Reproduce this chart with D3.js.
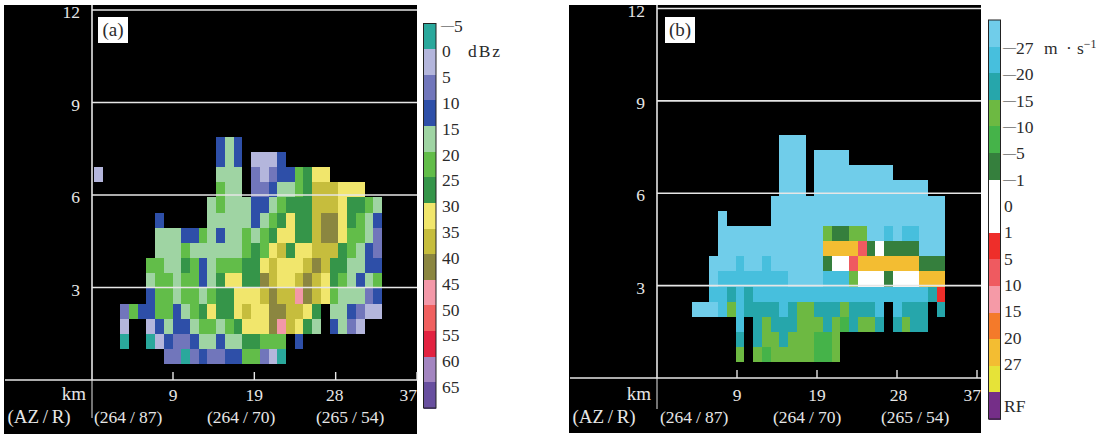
<!DOCTYPE html>
<html><head><meta charset="utf-8">
<script src="https://cdn.jsdelivr.net/npm/d3@7"></script>
<style>html,body{margin:0;padding:0;background:#fff}svg{display:block}text{font-family:"Liberation Serif",serif}</style>
</head><body><svg id="c" width="1109" height="434"></svg>
<script>
// Height ticks (km), range ticks (km), azimuth/range labels
const heightTicks = [12, 9, 6, 3];
const rangeTicks = ["9", "19", "28", "37"];
const azLabels = ["(264/87)", "(264/70)", "(265/54)"];

// Reflectivity legend (dBz), one letter per class
const dbzCodes = ["A","L","P","B","M","G","D","Y","O","K","R","S","T","U","V"];
const dbzLabels = ["−5","0","5","10","15","20","25","30","35","40","45","50","55","60","65"];
const dbzColors = ["#2aa89c","#b4b6dc","#7176bb","#2f50a8","#9fd4a3","#62bd4a","#34954a","#f1e66c","#c6bd3c","#8b8640","#f398a8","#f0605f","#e2213f","#a385c0","#67509f"];

// Velocity legend (m/s), one letter per class
const velCodes = ["C","E","T","H","N","F","W","w","Z","Q","I","J","X","K","P"];
const velLabels = ["−27","−20","−15","−10","−5","−1","0","1","5","10","15","20","27","RF"];
const velColors = ["#70cdea","#46bfdd","#25a6ab","#6db942","#45b349","#347f3e","#ffffff","#ffffff","#ee2f2c","#ef5a60","#f59aa7","#f47a2a","#f3bd30","#e6e338","#742d88"];

// Panel (a) reflectivity classes, rows top to bottom, columns left to right
const reflectivityRows = [
"..............BMB",
"..............BMB.LLLB",
"L.............MMM.PLPBBGDYY",
"..............GMM.PPBMMGDOOOYYY",
".............MGMMMBBMGDDDOOOYDDGM",
".......B.....MMMMMBMGDYDDOKKYDGMB",
".......MMMBBGMBMMGMGDYYDDOKKYGGMP",
".......MMMGMMMMMMGDGYODYYOOODGMBP",
"......GGMMDGBMGGGDDYOYYYOKODDMMBB",
"......MGGMGGBMDYYDDKOYYOKOYDGMBMG",
"......BGGMGGMGDDYYYOKOORKOYGMMMPB",
"...PGBBGGBMGDYDDYOYYKKOOYD.MMBPLL",
"...L..LBMBBMGGMGDYYYKROYDM.BMPL",
"...A..ALBPPBMMBMMDDGGG.B",
"........PPAPBPPBBGGPLA"
];

// Panel (b) velocity classes, rows top to bottom, columns left to right
const velocityRows = [
"..........CCC",
"..........CCC.CCCC",
"..........CCC.CCCCCCCCC",
"..........CCC.CCCCCCCCCCCCC",
".........CCCCCCCCCCCCCCCCCCCC",
"...C.....CCCCCCCCCCCCCCCCCCCC",
"...CCCCCCCCCCCCHFFHHCCECEECCC",
"...CCCCCCCCCCCCXXXXQFWFFFFCCC",
"..CCCECCECCCCCCFWWQXXXXXXXFFF",
"..CEEEEEEEECCCCEEEHWWWFWWWXXX",
"..EETETEEEEEEEEEEEEEEEEEEEETZ",
"CCCEHETTTTETHHTTTHTTTE.ETTT.T",
".....E.THTTTHHHTHNTHHT.THTT",
".....T.THHTHHHNNH",
".....H.HNHHHHHNNH"
];

const svg = d3.select("#c");
const defs = svg.append("defs");
defs.append("filter").attr("id","soft").attr("x","-2%").attr("y","-2%").attr("width","104%").attr("height","104%")
  .append("feGaussianBlur").attr("stdDeviation",0.55);

const INK = "#e6e6e6", DARK = "#2b2b2b", FS = 17.5;

function slashText(sel, gap){
  sel.each(function(d){
    const [a,b] = (d||"").split("/");
    const s = d3.select(this);
    s.append("tspan").text(a);
    s.append("tspan").attr("dx",gap).text("/");
    s.append("tspan").attr("dx",gap).text(b);
  });
}

function drawPanel(o){
  const g = svg.append("g");
  g.append("rect").attr("x",o.left).attr("y",o.top).attr("width",o.right-o.left).attr("height",o.bottom-o.top).attr("fill","#000");

  const color = d3.scaleOrdinal(o.codes, o.colors);
  const nCols = o.nCols, nRows = o.rows.length;
  const xc = d3.scaleLinear([0,nCols],[o.cellX0,o.cellX1]);
  const yr = d3.scaleLinear([0,nRows],[o.cellY0,o.cellY1]);
  const cells = o.rows.flatMap((s,r)=>Array.from(s,(ch,c)=>({ch,r,c}))).filter(d=>d.ch!==".");
  const layer = g.append("g").attr("filter","url(#soft)");
  layer.selectAll("rect").data(cells).join("rect")
    .attr("x",d=>xc(d.c)).attr("y",d=>yr(d.r))
    .attr("width",d=>xc(d.c+1)-xc(d.c)).attr("height",d=>yr(d.r+1)-yr(d.r))
    .attr("fill",d=>color(d.ch)).attr("shape-rendering","crispEdges");

  const ax = o.axisX;
  const y = d3.scaleLinear([0,12],[o.y0,o.y12]);
  const x = d3.scalePoint(rangeTicks,o.tickRange);

  // horizontal guide lines + labels
  g.selectAll("line.h").data(heightTicks).join("line").attr("class","h")
    .attr("x1",ax).attr("x2",o.right).attr("y1",d=>y(d)).attr("y2",d=>y(d))
    .attr("stroke",INK).attr("stroke-width",1.6);
  g.selectAll("text.h").data(heightTicks).join("text").attr("class","h")
    .attr("x",ax-12).attr("y",d=>y(d)+8).attr("text-anchor","end")
    .attr("fill",INK).attr("font-size",FS).text(d=>d);

  // baseline, vertical axis
  g.append("line").attr("x1",o.left+1).attr("x2",o.right).attr("y1",y(0)).attr("y2",y(0)).attr("stroke",INK).attr("stroke-width",1.6);
  g.append("line").attr("x1",ax).attr("x2",ax).attr("y1",o.top).attr("y2",y(0)).attr("stroke",INK).attr("stroke-width",1.6);
  g.append("line").attr("x1",ax).attr("x2",ax).attr("y1",y(0)).attr("y2",o.axisEnd).attr("stroke",INK).attr("stroke-width",1);

  // ticks
  g.selectAll("line.t").data(rangeTicks).join("line").attr("class","t")
    .attr("x1",d=>x(d)).attr("x2",d=>x(d)).attr("y1",y(0)-8).attr("y2",y(0))
    .attr("stroke",INK).attr("stroke-width",1.4);
  g.selectAll("text.t").data(rangeTicks).join("text").attr("class","t")
    .attr("x",d=>d==="37"?o.right:x(d)+(d==="28"?o.shift28:0)).attr("y",401).attr("text-anchor",d=>d==="37"?"end":"middle")
    .attr("fill",INK).attr("font-size",FS).text(d=>d);

  g.append("text").attr("x",ax-6).attr("y",400).attr("text-anchor","end").attr("fill",INK).attr("font-size",19).text("km");
  g.append("text").datum("(AZ/R)").attr("x",o.left+3.5).attr("y",423).attr("fill",INK).attr("font-size",19).call(slashText,3.6);
  g.selectAll("text.az").data(azLabels).join("text").attr("class","az")
    .attr("x",(d,i)=>o.azX[i]).attr("y",423).attr("fill",INK).attr("font-size",FS).call(slashText,4);

  // panel tag
  g.append("rect").attr("x",o.tagX).attr("y",17).attr("width",30).attr("height",26).attr("fill","#fff");
  g.append("text").attr("x",o.tagX+15).attr("y",36).attr("text-anchor","middle").attr("fill",DARK).attr("font-size",19).text(o.tag);

  // colour bar
  const n = o.colors.length;
  const yb = d3.scaleLinear([0,n],[o.barY0,o.barY1]);
  const bar = g.append("g");
  bar.append("g").attr("filter","url(#soft)").selectAll("rect").data(o.colors).join("rect")
    .attr("x",o.barX).attr("width",o.barW).attr("y",(d,i)=>yb(i)).attr("height",(d,i)=>yb(i+1)-yb(i)+.5)
    .attr("fill",d=>d).attr("shape-rendering","crispEdges");
  bar.append("rect").attr("x",o.barX).attr("y",o.barY0).attr("width",o.barW).attr("height",o.barY1-o.barY0)
    .attr("fill","none").attr("stroke","#222").attr("stroke-width",1);

  const ly = d3.scaleLinear([0,o.labelSpanN],[o.labelY0,o.labelY1]);
  const t = g.selectAll("text.l").data(o.labels).join("text").attr("class","l")
    .attr("x",o.labelX).attr("y",(d,i)=>ly(i)+6).attr("fill",DARK).attr("font-size",FS);
  t.each(function(d){
    const s = d3.select(this);
    if(d[0]==="−"){
      s.append("tspan").attr("font-size",13).attr("dy",-2.6).text("—");
      s.append("tspan").attr("dy",2.6).text(d.slice(1));
    } else s.attr("dx",1).text(d);
  });
  o.unit(g);
}

drawPanel({
  left:4,right:417,top:5,bottom:434,axisX:92,tag:"(a)",tagX:98,y0:380,y12:10,
  tickRange:[173,417],shift28:-1,azX:[94,207,316],axisEnd:418,
  rows:reflectivityRows,nCols:33,cellX0:94,cellX1:382,cellY0:136.7,cellY1:364.3,
  codes:dbzCodes,colors:dbzColors,labels:dbzLabels,
  barX:423.5,barW:12.5,barY0:23.5,barY1:408,
  labelX:441,labelY0:25.5,labelY1:387,labelSpanN:14,
  unit:g=>g.append("text").attr("x",468).attr("y",57).attr("fill",DARK).attr("font-size",FS)
    .attr("textLength",32).attr("lengthAdjust","spacing").text("dBz")
});

drawPanel({
  left:569,right:981,top:5,bottom:433,axisX:657,tag:"(b)",tagX:665,y0:378,y12:8.5,
  tickRange:[737,977],shift28:1.5,azX:[660,773,881],axisEnd:409,
  rows:velocityRows,nCols:29,cellX0:692,cellX1:945.3,cellY0:135,cellY1:362.3,
  codes:velCodes,colors:velColors,labels:velLabels,
  barX:988.5,barW:12,barY0:20,barY1:419,
  labelX:1003,labelY0:48,labelY1:364,labelSpanN:12,
  unit:g=>{
    const u=g.append("text").attr("y",54).attr("fill",DARK).attr("font-size",FS);
    u.append("tspan").attr("x",1044).text("m");
    u.append("tspan").attr("x",1066).text("·");
    u.append("tspan").attr("x",1077).text("s");
    u.append("tspan").attr("dy",-6).attr("font-size",12).text("−1");
  }
});
// RF label sits on the purple class
d3.selectAll("text.l").filter(d=>d==="RF").attr("y",412);
</script></body></html>
